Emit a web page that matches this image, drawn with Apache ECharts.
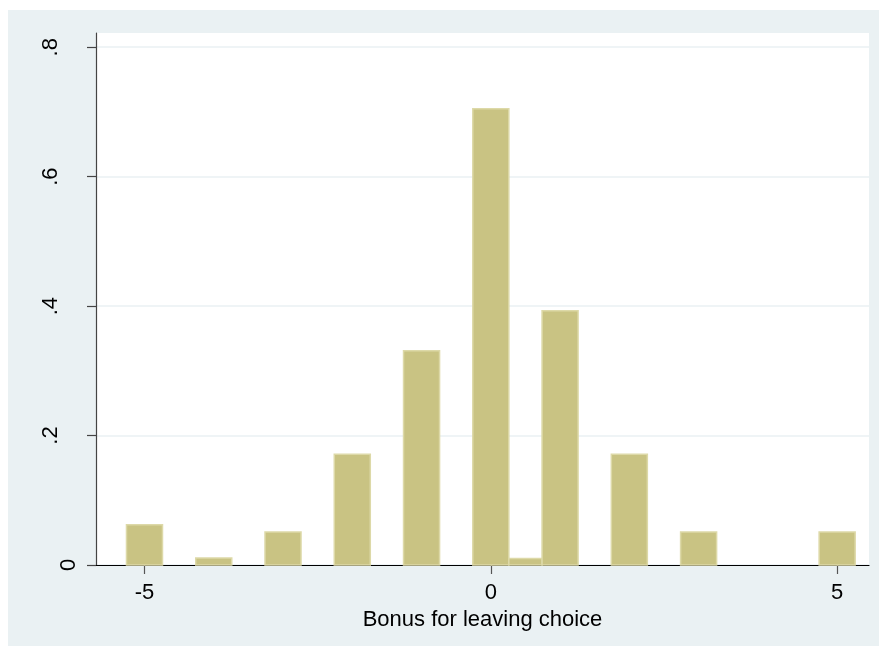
<!DOCTYPE html>
<html>
<head>
<meta charset="utf-8">
<script src="https://cdn.jsdelivr.net/npm/echarts@6/dist/echarts.min.js"></script>
<style>
  html, body { margin: 0; padding: 0; background: #fff; }
  #main { width: 879px; height: 646px; }
</style>
</head>
<body>
<div id="main"></div>
<script>
// histogram bins (bonus value ranges) and their density
const binLo = [-5.26, -4.26, -3.26, -2.26, -1.26, -0.26, 0.26, 0.74, 1.74, 2.74, 4.74]
const binHi = [-4.74, -3.74, -2.74, -1.74, -0.74, 0.26, 0.74, 1.26, 2.26, 3.26, 5.26]
const density = [0.062, 0.011, 0.051, 0.171, 0.331, 0.705, 0.01, 0.393, 0.171, 0.051, 0.051]
const xTicks = [-5, 0, 5]
const yTicks = [0, 0.2, 0.4, 0.6, 0.8]

const chart = echarts.init(document.getElementById('main'))
const font = 'Liberation Sans, Arial, sans-serif'
const fmtY = v => v === 0 ? '0' : String(+v.toFixed(1)).replace('0.', '.')

const option = {
  backgroundColor: '#ffffff',
  animation: false,
  graphic: [{
    type: 'rect',
    z: -10,
    shape: { x: 8, y: 10, width: 871, height: 636 },
    style: { fill: '#eaf1f3' }
  }],
  grid: {
    left: 96, top: 33, right: 10, bottom: 81,
    show: true, backgroundColor: '#ffffff', borderWidth: 0,
    outerBoundsMode: 'none'
  },
  xAxis: {
    type: 'value',
    min: -5.7, max: 5.46,
    name: 'Bonus for leaving choice',
    nameLocation: 'middle',
    nameGap: 30,
    nameTextStyle: { fontFamily: font, fontSize: 22, color: '#000' },
    axisLine: { onZero: false, lineStyle: { color: '#000', width: 1.2 } },
    axisTick: { customValues: xTicks, length: 9, lineStyle: { color: '#555', width: 1.2 } },
    axisLabel: { customValues: xTicks, margin: 17, fontFamily: font, fontSize: 22, color: '#000' },
    splitLine: { show: false }
  },
  yAxis: [{
    type: 'value',
    min: 0, max: 0.822, interval: 0.2,
    axisLine: { show: true, onZero: false, lineStyle: { color: '#444', width: 1.2 } },
    axisTick: { show: true, customValues: yTicks, length: 9, lineStyle: { color: '#444', width: 1.2 } },
    axisLabel: {
      customValues: yTicks.slice(1), rotate: 90, margin: 34,
      fontFamily: font, fontSize: 22, color: '#000', formatter: fmtY
    },
    splitLine: { show: true, lineStyle: { color: '#eaf1f3', width: 1.5 } }
  }, {
    // the "0" label sits closer to the axis in the original
    type: 'value',
    position: 'left',
    min: 0, max: 0.822, interval: 0.2,
    axisLine: { show: false },
    axisTick: { show: false },
    splitLine: { show: false },
    axisLabel: {
      customValues: [0], rotate: 90, margin: 16,
      fontFamily: font, fontSize: 22, color: '#000', formatter: fmtY
    }
  }],
  series: [{
    type: 'custom',
    data: density.map((d, i) => [binLo[i], binHi[i], d]),
    renderItem: function (params, api) {
      const p1 = api.coord([api.value(0), api.value(2)])
      const p2 = api.coord([api.value(1), 0])
      return {
        type: 'rect',
        shape: { x: p1[0], y: p1[1], width: p2[0] - p1[0], height: p2[1] - p1[1] },
        style: { fill: '#c9c383', stroke: '#ddd9a8', lineWidth: 1.5 }
      }
    }
  }]
}
chart.setOption(option)
</script>
</body>
</html>
